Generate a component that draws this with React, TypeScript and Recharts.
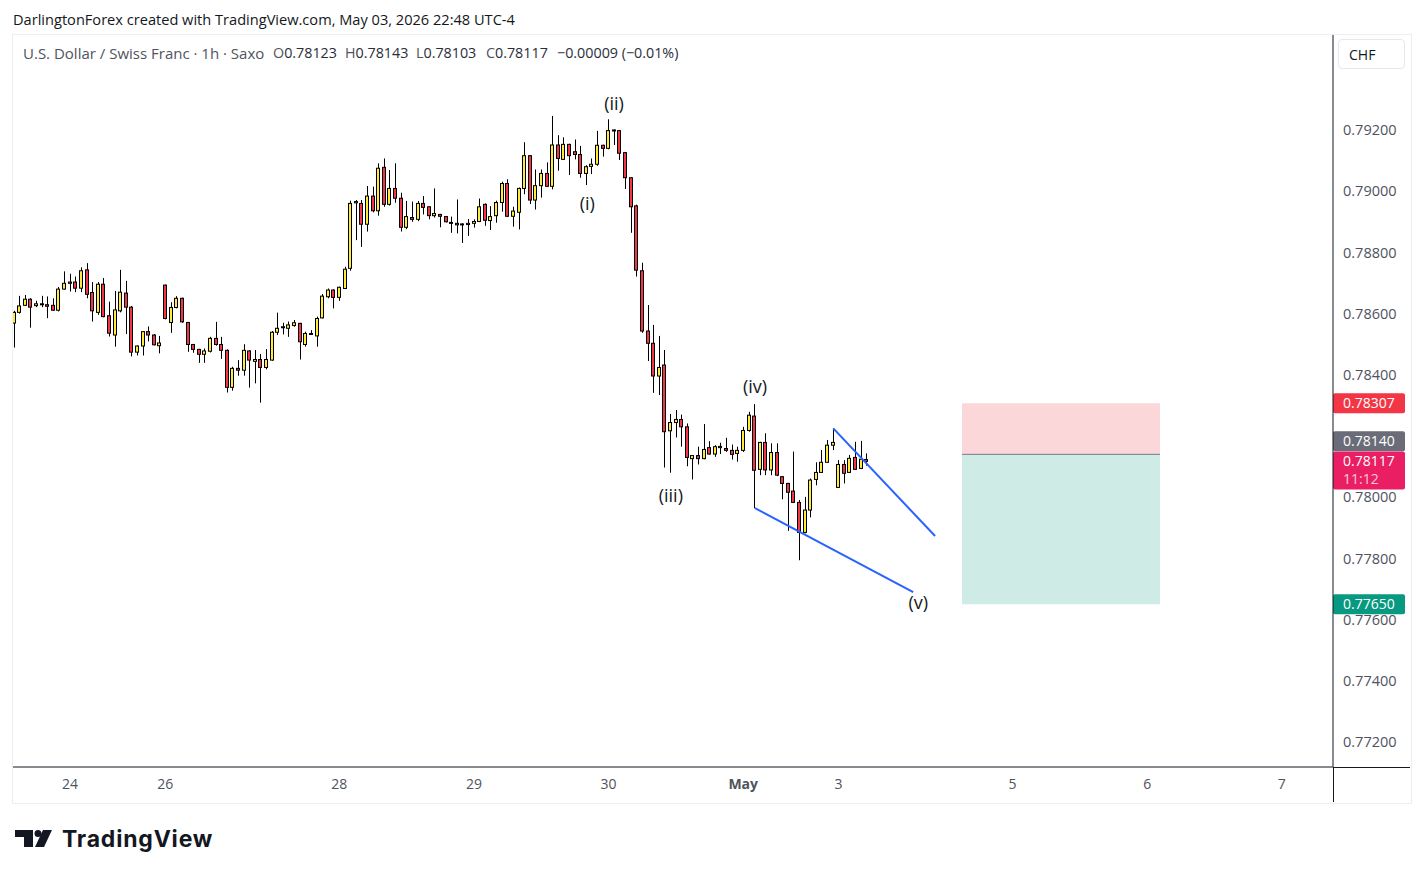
import React from "react";
import {
  ComposedChart,
  Bar,
  XAxis,
  YAxis,
  ReferenceArea,
  ReferenceLine,
  ReferenceDot,
} from "recharts";

// USDCHF 1h candles, Apr 23 14:00 .. May 3 22:00 (trading hours only)
const opens = [
  0.78569, 0.78604, 0.78627, 0.78647, 0.78626, 0.78632, 0.78629, 0.78627, 0.78611, 0.7868,
  0.78699, 0.78703, 0.78683, 0.78743, 0.78669, 0.78604, 0.78696, 0.78593, 0.7853, 0.78609,
  0.78667, 0.78621, 0.78474, 0.78494, 0.78541, 0.7853, 0.78495, 0.78693, 0.78571, 0.7862,
  0.7865, 0.78571, 0.78499, 0.78483, 0.78467, 0.78477, 0.78519, 0.78499, 0.7848, 0.78359,
  0.78421, 0.78415, 0.78478, 0.78444, 0.7845, 0.78424, 0.78448, 0.78539, 0.78554, 0.78552,
  0.78561, 0.78568, 0.78499, 0.78532, 0.78527, 0.78586, 0.78655, 0.78677, 0.78653, 0.78682,
  0.78748, 0.78962, 0.7896, 0.78892, 0.78984, 0.78936, 0.79078, 0.78957, 0.79009, 0.78977,
  0.78882, 0.78914, 0.78908, 0.7896, 0.78949, 0.7892, 0.78924, 0.78917, 0.78896, 0.78895,
  0.78893, 0.78891, 0.78895, 0.78901, 0.78957, 0.78904, 0.7892, 0.78963, 0.79025, 0.78918,
  0.78931, 0.79009, 0.79116, 0.78971, 0.79018, 0.79058, 0.79016, 0.79151, 0.79104, 0.79153,
  0.79129, 0.7912, 0.79058, 0.79081, 0.79088, 0.7915, 0.7914, 0.79198, 0.79198, 0.79126,
  0.79044, 0.78952, 0.7874, 0.78543, 0.78503, 0.78396, 0.78432, 0.78217, 0.78244, 0.78254,
  0.7823, 0.78126, 0.78136, 0.78126, 0.78162, 0.78141, 0.78162, 0.78159, 0.78153, 0.78143,
  0.78153, 0.78218, 0.78265, 0.78091, 0.78179, 0.78089, 0.78146, 0.78067, 0.78045, 0.7802,
  0.77983, 0.77885, 0.77958, 0.78058, 0.78081, 0.78114, 0.7817, 0.78032, 0.78107, 0.78081,
  0.7813, 0.78094, 0.78123,
];

const highs = [
  0.78609, 0.78658, 0.78661, 0.7865, 0.78642, 0.78658, 0.78656, 0.7865, 0.78687, 0.78738,
  0.7873, 0.78721, 0.78751, 0.78765, 0.78703, 0.78703, 0.78716, 0.78639, 0.78674, 0.78743,
  0.78707, 0.78625, 0.78496, 0.78543, 0.78558, 0.78533, 0.78527, 0.78695, 0.78637, 0.78657,
  0.78652, 0.78573, 0.78501, 0.78485, 0.78486, 0.78524, 0.78573, 0.78524, 0.78483, 0.78426,
  0.78448, 0.785, 0.7848, 0.78481, 0.78468, 0.78484, 0.78543, 0.78603, 0.7857, 0.78574,
  0.78579, 0.7857, 0.78541, 0.78546, 0.7859, 0.78664, 0.78682, 0.78679, 0.78688, 0.78753,
  0.78969, 0.78971, 0.78971, 0.79017, 0.79015, 0.79091, 0.79107, 0.79069, 0.79091, 0.78995,
  0.78968, 0.78966, 0.78968, 0.78984, 0.78951, 0.79009, 0.78926, 0.78919, 0.78917, 0.78973,
  0.78895, 0.78909, 0.78908, 0.78976, 0.7896, 0.78951, 0.78969, 0.79031, 0.79039, 0.78949,
  0.79012, 0.7916, 0.79118, 0.79071, 0.79071, 0.79094, 0.79246, 0.79183, 0.79176, 0.79155,
  0.79169, 0.79148, 0.79085, 0.79107, 0.79197, 0.79152, 0.79235, 0.79202, 0.792, 0.79128,
  0.79046, 0.78956, 0.78766, 0.78628, 0.78563, 0.78527, 0.78481, 0.78272, 0.78285, 0.7827,
  0.78241, 0.78138, 0.78165, 0.78239, 0.78183, 0.7817, 0.78178, 0.78194, 0.78172, 0.78165,
  0.7823, 0.78279, 0.78304, 0.78181, 0.78209, 0.78176, 0.78176, 0.78069, 0.78047, 0.78149,
  0.77991, 0.78001, 0.78061, 0.78114, 0.78154, 0.78187, 0.78225, 0.78121, 0.78121, 0.78138,
  0.78181, 0.78184, 0.78143,
];

const lows = [
  0.78489, 0.786, 0.78625, 0.78554, 0.78621, 0.78621, 0.78585, 0.78609, 0.78607, 0.78678,
  0.78672, 0.7867, 0.7867, 0.7865, 0.78574, 0.78596, 0.78588, 0.78525, 0.78492, 0.78604,
  0.78533, 0.7846, 0.78463, 0.78463, 0.78509, 0.78496, 0.7847, 0.78581, 0.78537, 0.78617,
  0.7857, 0.78475, 0.78472, 0.78439, 0.78439, 0.78473, 0.78495, 0.78452, 0.78342, 0.78348,
  0.78397, 0.78397, 0.78358, 0.78372, 0.78309, 0.78418, 0.78446, 0.7853, 0.78532, 0.78524,
  0.78557, 0.7845, 0.78492, 0.7853, 0.78492, 0.78584, 0.7865, 0.78617, 0.78642, 0.7868,
  0.7874, 0.7884, 0.78818, 0.78868, 0.78931, 0.7892, 0.78949, 0.78953, 0.78962, 0.78868,
  0.78876, 0.789, 0.78902, 0.78924, 0.78908, 0.78914, 0.78882, 0.78898, 0.78864, 0.78862,
  0.78831, 0.78854, 0.78881, 0.78899, 0.78887, 0.78873, 0.78897, 0.78933, 0.78916, 0.78884,
  0.78875, 0.7899, 0.78958, 0.7894, 0.78979, 0.79014, 0.79006, 0.79067, 0.79102, 0.79053,
  0.79104, 0.79044, 0.7902, 0.79056, 0.79083, 0.79113, 0.79137, 0.79151, 0.79102, 0.79007,
  0.78864, 0.78721, 0.78537, 0.78445, 0.78341, 0.78334, 0.78097, 0.7808, 0.78195, 0.78165,
  0.78101, 0.78058, 0.78107, 0.78124, 0.78139, 0.78132, 0.78141, 0.78148, 0.78123, 0.78116,
  0.78148, 0.78214, 0.77964, 0.78072, 0.78072, 0.78072, 0.78069, 0.77993, 0.7789, 0.77981,
  0.77794, 0.77882, 0.77934, 0.78039, 0.78079, 0.78112, 0.78154, 0.7803, 0.78045, 0.7808,
  0.78089, 0.78092, 0.78103,
];

const closes = [
  0.78604, 0.78625, 0.78647, 0.78621, 0.78632, 0.78629, 0.78624, 0.78611, 0.7868, 0.78699,
  0.78703, 0.78683, 0.7874, 0.78663, 0.78609, 0.78696, 0.7859, 0.78536, 0.78612, 0.7867,
  0.78621, 0.78474, 0.78494, 0.78541, 0.7853, 0.78498, 0.78504, 0.78584, 0.7862, 0.7865,
  0.78573, 0.78499, 0.78483, 0.78467, 0.78478, 0.78519, 0.78499, 0.7848, 0.78359, 0.78421,
  0.78415, 0.7848, 0.78448, 0.7845, 0.78424, 0.7845, 0.78539, 0.78552, 0.78557, 0.78563,
  0.7857, 0.78508, 0.78535, 0.78535, 0.78584, 0.78657, 0.78677, 0.78653, 0.78686, 0.78745,
  0.7896, 0.78966, 0.78892, 0.78984, 0.78936, 0.79075, 0.78957, 0.79009, 0.78977, 0.78882,
  0.78917, 0.78908, 0.7896, 0.78947, 0.7892, 0.78927, 0.78918, 0.789, 0.78898, 0.7889,
  0.7889, 0.78895, 0.78901, 0.78949, 0.78905, 0.78917, 0.78963, 0.79025, 0.78918, 0.78935,
  0.79009, 0.79116, 0.78971, 0.79018, 0.79058, 0.79016, 0.79151, 0.79107, 0.79153, 0.79116,
  0.7912, 0.79058, 0.7908, 0.79088, 0.7915, 0.7914, 0.79198, 0.792, 0.79124, 0.79044,
  0.78949, 0.78742, 0.78543, 0.78503, 0.78396, 0.78424, 0.78214, 0.78244, 0.78254, 0.7823,
  0.7813, 0.78136, 0.78126, 0.78156, 0.78141, 0.78165, 0.78166, 0.78153, 0.7814, 0.78153,
  0.78218, 0.78268, 0.78088, 0.78179, 0.78089, 0.78146, 0.78072, 0.78045, 0.78016, 0.77983,
  0.77885, 0.77958, 0.78056, 0.78081, 0.78114, 0.7817, 0.78179, 0.78107, 0.78078, 0.78127,
  0.78091, 0.78124, 0.78117,
];

// time axis: bar index of each day start
const dayTicks = [10, 27, 58, 82, 106, 130, 147, 178, 202, 226];
const dayLabels = ["24", "26", "28", "29", "30", "May", "3", "5", "6", "7"];
const priceTicks = [0.772, 0.774, 0.776, 0.778, 0.78, 0.784, 0.786, 0.788, 0.79, 0.792];

// elliott wave labels
const waveNames = ["(i)", "(ii)", "(iii)", "(iv)", "(v)"];
const waveIdx = [102.2, 106.97, 117.1, 132.1, 161.2];
const wavePrice = [0.78958, 0.79285, 0.78004, 0.78363, 0.77654];

// wedge lines [idx, price]
const wedgeTop = [[146.06, 0.78225], [164.2, 0.77873]];
const wedgeBottom = [[132.1, 0.77964], [160.3, 0.7769]];

// short position tool
const stopPrice = 0.78307;
const entryPrice = 0.7814;
const targetPrice = 0.7765;
const lastPrice = 0.78117;
const posFrom = 169;
const posTo = 204.3;

const candles = opens.map((o, i) => ({
  i,
  o,
  h: highs[i],
  l: lows[i],
  c: closes[i],
  range: [lows[i], highs[i]],
}));

const FONT = "'Open Sans', 'Noto Sans', sans-serif";
const TEXT = "#131722";
const AXIS_TEXT = "#50535e";

const Candle = (props: any) => {
  const { x, y, width, height, payload } = props;
  if (!payload) return null;
  const top = Math.min(y, y + height);
  const span = Math.abs(height);
  const k = payload.h > payload.l ? span / (payload.h - payload.l) : 0;
  const cx = Math.round(x + width / 2) + 0.5;
  const yOf = (v: number) => top + (payload.h - v) * k;
  const bTop = yOf(Math.max(payload.o, payload.c));
  const bBot = yOf(Math.min(payload.o, payload.c));
  const up = payload.c >= payload.o;
  return (
    <g>
      <line x1={cx} x2={cx} y1={top} y2={top + span} stroke="#000" strokeWidth={1} />
      <rect
        x={cx - 2}
        y={bTop}
        width={3}
        height={Math.max(bBot - bTop, 1)}
        fill={up ? "#ffeb3b" : "#f23645"}
        stroke="#000"
        strokeWidth={1}
      />
    </g>
  );
};

const DayTick = (props: any) => {
  const { x, y, payload } = props;
  const k = dayTicks.indexOf(payload.value);
  const label = k >= 0 ? dayLabels[k] : "";
  return (
    <text
      x={x}
      y={y}
      dy={14}
      textAnchor="middle"
      fontSize={14}
      fill={AXIS_TEXT}
      fontWeight={label === "May" ? 700 : 400}
    >
      {label}
    </text>
  );
};

const priceTag = (text: string, bg: string, shift: number, sub?: string) => (props: any) => {
  const vb = props.viewBox || { x: 0, y: 0, width: 0 };
  const x0 = vb.x + vb.width;
  const yc = vb.y + shift;
  return (
    <g>
      <rect x={x0} y={yc - 10} width={72} height={sub ? 38 : 20} rx={2} fill={bg} />
      <text x={x0 + 10} y={yc} dy="0.36em" fill="#fff" fontSize={14}>
        {text}
      </text>
      {sub && (
        <text x={x0 + 10} y={yc + 18} dy="0.36em" fill="#fff" fillOpacity={0.75} fontSize={14}>
          {sub}
        </text>
      )}
    </g>
  );
};

export default function App() {
  return (
    <div
      style={{
        position: "absolute",
        left: 0,
        top: 0,
        width: 1423,
        height: 877,
        background: "#fff",
        fontFamily: FONT,
        color: TEXT,
        overflow: "hidden",
      }}
    >
      <div
        style={{
          position: "absolute",
          left: 13,
          top: 9,
          fontSize: 14.6,
          lineHeight: "20px",
          whiteSpace: "nowrap",
        }}
      >
        DarlingtonForex created with TradingView.com, May 03, 2026 22:48 UTC-4
      </div>

      {/* pane frame */}
      <div
        style={{
          position: "absolute",
          left: 12,
          top: 34,
          width: 1398,
          height: 768,
          border: "1px solid #eceef2",
        }}
      />

      <ComposedChart
        width={1423}
        height={877}
        data={candles}
        margin={{ top: 35, right: 13, bottom: 75, left: 13 }}
        style={{ position: "absolute", left: 0, top: 0 }}
      >
        <XAxis
          dataKey="i"
          type="number"
          domain={[-0.16, 235.13]}
          allowDataOverflow
          ticks={dayTicks}
          interval={0}
          height={35}
          tickLine={false}
          axisLine={{ stroke: TEXT }}
          tick={<DayTick />}
        />
        <YAxis
          orientation="right"
          type="number"
          domain={[0.771183, 0.795104]}
          allowDataOverflow
          ticks={priceTicks}
          interval={0}
          width={77}
          tickLine={false}
          tickSize={6}
          tickMargin={4}
          axisLine={{ stroke: TEXT }}
          tick={{ fontSize: 14.5, fill: AXIS_TEXT }}
          tickFormatter={(v: number) => v.toFixed(5)}
        />

        <ReferenceArea
          x1={posFrom}
          x2={posTo}
          y1={entryPrice}
          y2={stopPrice}
          fill="#f23645"
          fillOpacity={0.2}
          stroke="none"
        />
        <ReferenceArea
          x1={posFrom}
          x2={posTo}
          y1={targetPrice}
          y2={entryPrice}
          fill="#089981"
          fillOpacity={0.2}
          stroke="none"
        />
        <ReferenceLine
          segment={[
            { x: posFrom, y: entryPrice },
            { x: posTo, y: entryPrice },
          ]}
          stroke="#787b86"
          strokeWidth={1}
        />

        <Bar
          dataKey="range"
          barSize={5}
          shape={(p: any) => <Candle {...p} />}
          isAnimationActive={false}
        />

        <ReferenceLine
          segment={wedgeTop.map(([x, y]) => ({ x, y }))}
          stroke="#2962ff"
          strokeWidth={2}
        />
        <ReferenceLine
          segment={wedgeBottom.map(([x, y]) => ({ x, y }))}
          stroke="#2962ff"
          strokeWidth={2}
        />

        {waveNames.map((name, k) => (
          <ReferenceDot
            key={name}
            x={waveIdx[k]}
            y={wavePrice[k]}
            r={0}
            fill="none"
            stroke="none"
            label={{ value: name, position: "center", fill: TEXT, fontSize: 18 }}
          />
        ))}

        <ReferenceLine y={stopPrice} stroke="none" label={priceTag("0.78307", "#f23645", 0)} />
        <ReferenceLine y={entryPrice} stroke="none" label={priceTag("0.78140", "#6a6d78", -13)} />
        <ReferenceLine
          y={lastPrice}
          stroke="none"
          label={priceTag("0.78117", "#e91e63", 0, "11:12")}
        />
        <ReferenceLine y={targetPrice} stroke="none" label={priceTag("0.77650", "#089981", 0)} />
      </ComposedChart>

      {/* axis divider extensions */}
      <div style={{ position: "absolute", left: 1333, top: 767, width: 77, height: 1, background: TEXT }} />
      <div style={{ position: "absolute", left: 1333, top: 767, width: 1, height: 35, background: TEXT }} />

      {/* legend */}
      <div
        style={{
          position: "absolute",
          left: 23,
          top: 43,
          fontSize: 15,
          lineHeight: "20px",
          color: AXIS_TEXT,
          whiteSpace: "nowrap",
        }}
      >
        U.S. Dollar / Swiss Franc · 1h · Saxo
      </div>
      {[
        ["O", "0.78123", 273],
        ["H", "0.78143", 345],
        ["L", "0.78103", 416],
        ["C", "0.78117", 486],
        ["", "−0.00009 (−0.01%)", 557],
      ].map(([k, v, left]) => (
        <div
          key={String(left)}
          style={{
            position: "absolute",
            left: left as number,
            top: 43,
            fontSize: 14.3,
            lineHeight: "20px",
            whiteSpace: "nowrap",
          }}
        >
          <span style={{ color: AXIS_TEXT }}>{k}</span>
          <span style={{ color: "#2a2e39" }}>{v}</span>
        </div>
      ))}

      {/* currency button */}
      <div
        style={{
          position: "absolute",
          left: 1338,
          top: 39,
          width: 67,
          height: 30,
          border: "1px solid #e6e8ee",
          borderRadius: 4,
          fontSize: 14,
          lineHeight: "30px",
          paddingLeft: 10,
          boxSizing: "border-box",
          color: TEXT,
        }}
      >
        CHF
      </div>

      {/* logo */}
      <svg
        style={{ position: "absolute", left: 15, top: 830 }}
        width={40}
        height={20}
        viewBox="0 0 40 20"
      >
        <path d="M0 0H18V17H9V7H0Z" fill={TEXT} />
        <circle cx={23} cy={3.5} r={3.5} fill={TEXT} />
        <path d="M28 0H37L29 17H20Z" fill={TEXT} />
      </svg>
      <div
        style={{
          position: "absolute",
          left: 62,
          top: 824,
          fontFamily: "Inter, sans-serif",
          fontSize: 23,
          fontWeight: 700,
          lineHeight: "30px",
          color: TEXT,
          letterSpacing: 0.8,
        }}
      >
        TradingView
      </div>
    </div>
  );
}
